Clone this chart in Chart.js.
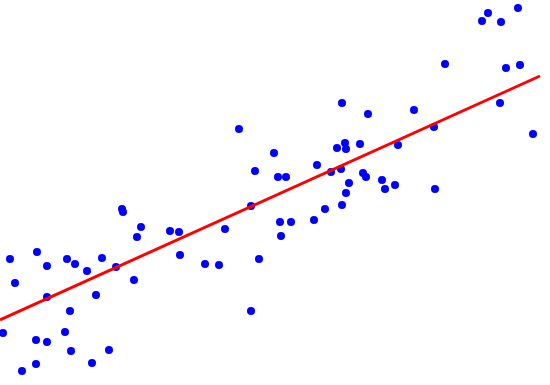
<!DOCTYPE html>
<html>
<head>
<meta charset="utf-8">
<script src="https://cdn.jsdelivr.net/npm/chart.js@4/dist/chart.umd.min.js"></script>
<style>
html,body{margin:0;padding:0;background:#fff;}
#wrap{width:550px;height:385px;}
</style>
</head>
<body>
<div id="wrap"><canvas id="c" width="550" height="385"></canvas></div>
<script>
const xValues = [482,488,501,518,445,506,520,500,533,434,414,398,368,342,360,345,337,346,317,331,341,363,366,382,395,385,349,346,435,278,286,274,342,325,314,280,291,281,239,255,251,259,251,225,219,205,180,179,170,141,137,122,123,134,116,102,96,87,75,67,70,65,71,47,47,47,37,36,36,22,15,10,3,92,109];
const yValues = [364,372,363,377,321,317,320,282,251,258,275,240,271,282,241,242,237,236,220,213,216,212,208,205,200,196,202,192,196,208,208,232,180,176,165,163,163,149,256,214,179,126,74,156,120,121,130,153,154,158,148,176,173,105,118,127,90,114,121,126,74,53,34,88,119,43,133,45,21,14,102,126,52,22,35];
const fitX = [0, 540];
const fitY = [65, 309];

const points = xValues.map((x, i) => ({x: x, y: yValues[i]}));
const fitLine = fitX.map((x, i) => ({x: x, y: fitY[i]}));

new Chart(document.getElementById('c'), {
  type: 'scatter',
  data: {
    datasets: [
      {
        type: 'line',
        data: fitLine,
        borderColor: '#ff0000',
        borderWidth: 3,
        pointRadius: 0,
        fill: false,
        order: 0,
        clip: false
      },
      {
        data: points,
        backgroundColor: '#0000ff',
        borderColor: '#0000ff',
        pointRadius: 4,
        pointBorderWidth: 0,
        order: 1,
        clip: false
      }
    ]
  },
  options: {
    responsive: false,
    animation: false,
    layout: {padding: 0, autoPadding: false},
    plugins: {legend: {display: false}, tooltip: {enabled: false}},
    scales: {
      x: {type: 'linear', min: 0, max: 550, display: false},
      y: {type: 'linear', min: 0, max: 385, display: false}
    }
  }
});
</script>
</body>
</html>
